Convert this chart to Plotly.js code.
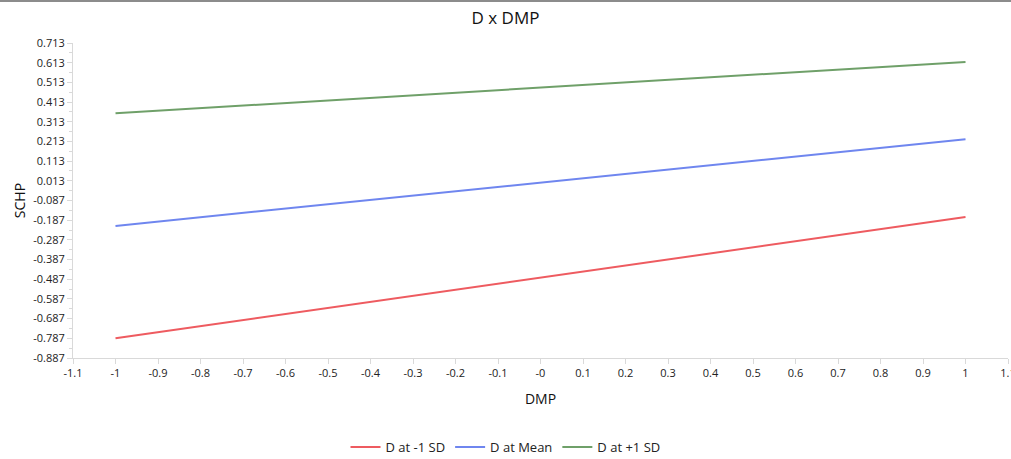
<!DOCTYPE html>
<html>
<head>
<meta charset="utf-8">
<script src="https://cdn.plot.ly/plotly-3.0.1.min.js"></script>
<style>
html,body{margin:0;padding:0;background:#fff;overflow:hidden;}
#chart{width:1011px;height:459px;}
#topline{position:absolute;left:0;top:0;width:1011px;height:2px;background:#8c8c8c;z-index:10;}
</style>
</head>
<body>
<div id="topline"></div>
<div id="chart"></div>
<script>
const xValues = [-1, 1];
const seriesNames = ["D at -1 SD", "D at Mean", "D at +1 SD"];
const lowSD = [-0.787, -0.171];
const meanD = [-0.216, 0.224];
const highSD = [0.356, 0.617];
const seriesColors = ["#ee5b60", "#6f86ef", "#6fa069"];

const xTickVals = [-1.1,-1,-0.9,-0.8,-0.7,-0.6,-0.5,-0.4,-0.3,-0.2,-0.1,0,0.1,0.2,0.3,0.4,0.5,0.6,0.7,0.8,0.9,1,1.1];
const xTickText = ["-1.1","-1","-0.9","-0.8","-0.7","-0.6","-0.5","-0.4","-0.3","-0.2","-0.1","-0","0.1","0.2","0.3","0.4","0.5","0.6","0.7","0.8","0.9","1","1.1"];
const yTickVals = [0.713,0.613,0.513,0.413,0.313,0.213,0.113,0.013,-0.087,-0.187,-0.287,-0.387,-0.487,-0.587,-0.687,-0.787,-0.887];
const yTickText = ["0.713","0.613","0.513","0.413","0.313","0.213","0.113","0.013","-0.087","-0.187","-0.287","-0.387","-0.487","-0.587","-0.687","-0.787","-0.887"];

const allSeries = [lowSD, meanD, highSD];
const traces = allSeries.map((ys, i) => ({
  x: xValues, y: ys, type: "scatter", mode: "lines",
  name: seriesNames[i],
  line: {color: seriesColors[i], width: 2}
}));

const fontFam = "'Open Sans', 'Noto Sans', sans-serif";
const layout = {
  width: 1011, height: 459,
  margin: {l: 73, r: 3, t: 43, b: 101},
  paper_bgcolor: "#fff", plot_bgcolor: "#fff",
  font: {family: fontFam, size: 11, color: "#222"},
  title: {text: "D x DMP", font: {family: fontFam, size: 17, color: "#111"},
          x: 0.5, xref: "container", y: 1 - 18/459, yref: "container", yanchor: "middle"},
  xaxis: {
    range: [-1.1, 1.1], tickvals: xTickVals, ticktext: xTickText,
    showgrid: false, zeroline: false,
    showline: true, linecolor: "#d9d9d9", linewidth: 1,
    ticks: "outside", ticklen: 5, tickcolor: "#d9d9d9",
    ticklabeloverflow: "allow",
    tickfont: {size: 11, color: "#222"},
    title: {text: "DMP", font: {size: 14, color: "#111"}, standoff: 14}
  },
  yaxis: {
    range: [-0.887, 0.713], tickvals: yTickVals, ticktext: yTickText,
    showgrid: false, zeroline: false,
    showline: true, linecolor: "#d9d9d9", linewidth: 1,
    ticks: "outside", ticklen: 5, tickcolor: "#d9d9d9",
    ticklabeloverflow: "allow",
    minor: {tickmode: "linear", tick0: 0.713, dtick: 0.05, ticks: "outside", ticklen: 3, tickcolor: "#d9d9d9", showgrid: false},
    tickfont: {size: 11, color: "#222"},
    title: {text: "SCHP", font: {size: 14, color: "#111"}, standoff: 4}
  },
  showlegend: true,
  legend: {orientation: "h", xref: "container", x: 0.5, xanchor: "center",
           yref: "container", y: 1 - 447/459, yanchor: "middle",
           font: {size: 13, color: "#222"}, itemwidth: 30, tracegroupgap: 0}
};

Plotly.newPlot("chart", traces, layout, {displayModeBar: false, staticPlot: true});
</script>
</body>
</html>
